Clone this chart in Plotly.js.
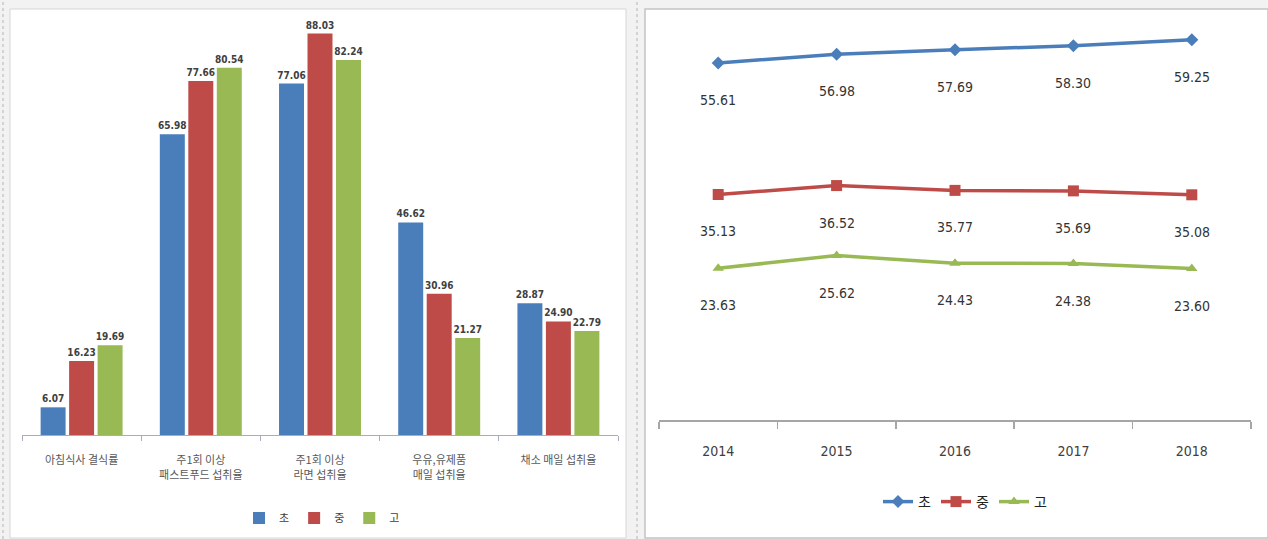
<!DOCTYPE html>
<html>
<head>
<meta charset="utf-8">
<script src="https://cdn.plot.ly/plotly-3.0.1.min.js"></script>
<style>html,body{margin:0;padding:0;background:#f2f2f2;}#chart{width:1268px;height:539px;}</style>
</head>
<body>
<div id="chart"></div>
<script>
// ---- Data: left grouped bar chart ----
const barCategories = ["아침식사 결식률", "주1회 이상<br>패스트푸드 섭취율", "주1회 이상<br>라면 섭취율", "우유,유제품<br>매일 섭취율", "채소 매일 섭취율"];
const seriesNames = ["초", "중", "고"];
const barElem = [6.07, 65.98, 77.06, 46.62, 28.87];
const barMiddle = [16.23, 77.66, 88.03, 30.96, 24.90];
const barHigh = [19.69, 80.54, 82.24, 21.27, 22.79];

// ---- Data: right line chart ----
const years = ["2014", "2015", "2016", "2017", "2018"];
const lineElem = [55.61, 56.98, 57.69, 58.30, 59.25];
const lineMiddle = [35.13, 36.52, 35.77, 35.69, 35.08];
const lineHigh = [23.63, 25.62, 24.43, 24.38, 23.60];

const colors = ["#4a7ebb", "#be4b48", "#98b954"];
const symbols = ["diamond", "square", "triangle-up"];
const NARROW = "DejaVu Sans Condensed, Liberation Sans, sans-serif";

const W = 1268, H = 539;
const px = v => v / W;
const py = v => (H - v) / H;

const barSeries = [barElem, barMiddle, barHigh];
const lineSeries = [lineElem, lineMiddle, lineHigh];

const traces = [];
barSeries.forEach((vals, i) => {
  traces.push({
    type: "bar",
    x: barCategories,
    y: vals,
    name: seriesNames[i],
    marker: {color: colors[i]},
    text: vals.map(v => v.toFixed(2)),
    textposition: "outside",
    constraintext: "none",
    cliponaxis: false,
    textfont: {family: NARROW, size: 10, color: "#404040", weight: "bold"},
    xaxis: "x", yaxis: "y",
    legend: "legend",
    hoverinfo: "skip"
  });
});
lineSeries.forEach((vals, i) => {
  traces.push({
    type: "scatter",
    mode: "lines+markers",
    x: years,
    y: vals,
    name: seriesNames[i],
    line: {color: colors[i], width: 3.5},
    marker: {color: colors[i], symbol: symbols[i], size: i === 1 ? 11 : 10},
    cliponaxis: false,
    xaxis: "x2", yaxis: "y2",
    legend: "legend2",
    hoverinfo: "skip"
  });
});

// value labels under each line point (category serial number = index)
const annotations = [];
lineSeries.forEach((vals, i) => {
  vals.forEach((v, j) => {
    annotations.push({
      xref: "x2", yref: "y2", x: j, y: v,
      text: v.toFixed(2), showarrow: false, yshift: -37,
      font: {family: NARROW, size: 14, color: "#333333"}
    });
  });
});

const layout = {
  width: W, height: H,
  margin: {l: 0, r: 0, t: 0, b: 0},
  paper_bgcolor: "#f2f2f2",
  plot_bgcolor: "rgba(0,0,0,0)",
  showlegend: true,
  barmode: "group",
  bargap: 0.283,
  bargroupgap: 0.123,
  hovermode: false,
  shapes: [
    {type: "rect", xref: "paper", yref: "paper", x0: px(10), x1: px(626), y0: py(538), y1: py(9),
     fillcolor: "#ffffff", line: {color: "#d6d6d6", width: 1}, layer: "below"},
    {type: "rect", xref: "paper", yref: "paper", x0: px(645), x1: px(1268), y0: py(538), y1: py(9),
     fillcolor: "#ffffff", line: {color: "#c4c4c4", width: 1.5}, layer: "below"},
    {type: "line", xref: "paper", yref: "paper", x0: px(3), x1: px(3), y0: 0, y1: 1,
     line: {color: "#b4b4b4", width: 1, dash: "dot"}, layer: "below"},
    {type: "line", xref: "paper", yref: "paper", x0: px(637), x1: px(637), y0: 0, y1: 1,
     line: {color: "#b4b4b4", width: 1, dash: "dot"}, layer: "below"}
  ],
  xaxis: {
    domain: [px(22), px(618)], anchor: "y", type: "category",
    range: [-0.5, 4.5],
    tickson: "boundaries", ticks: "outside", ticklen: 5, tickcolor: "#a6aebb",
    showline: true, linecolor: "#a6aebb", linewidth: 1,
    showgrid: false, zeroline: false,
    ticklabelstandoff: 15,
    tickfont: {family: "Noto Sans CJK KR", size: 11, color: "#595959"},
    fixedrange: true
  },
  yaxis: {
    domain: [py(435), py(15.5)], anchor: "x", range: [0, 92],
    visible: false, showgrid: false, zeroline: false, fixedrange: true
  },
  xaxis2: {
    domain: [px(659), px(1251)], anchor: "y2", type: "category",
    range: [-0.5, 4.5],
    tickson: "boundaries", ticks: "outside", ticklen: 7, tickcolor: "#a6a6a6", tickwidth: 1.5,
    showline: true, linecolor: "#a6a6a6", linewidth: 2,
    showgrid: false, zeroline: false,
    ticklabelstandoff: 17,
    tickfont: {family: NARROW, size: 14, color: "#404040"},
    fixedrange: true
  },
  yaxis2: {
    domain: [py(420), py(22)], anchor: "x2", range: [0, 62],
    visible: false, showgrid: false, zeroline: false, fixedrange: true
  },
  legend: {
    orientation: "h", x: px(322), xanchor: "center", y: py(518), yanchor: "middle",
    font: {family: "Noto Sans CJK KR", size: 11, color: "#404040"},
    bgcolor: "rgba(0,0,0,0)", itemclick: false, itemdoubleclick: false
  },
  legend2: {
    orientation: "h", x: px(965), xanchor: "center", y: py(502), yanchor: "middle",
    font: {family: "Noto Sans CJK KR", size: 14, color: "#222222"},
    bgcolor: "rgba(0,0,0,0)", itemclick: false, itemdoubleclick: false
  },
  annotations: annotations
};

Plotly.newPlot("chart", traces, layout, {displayModeBar: false, staticPlot: true});
</script>
</body>
</html>
